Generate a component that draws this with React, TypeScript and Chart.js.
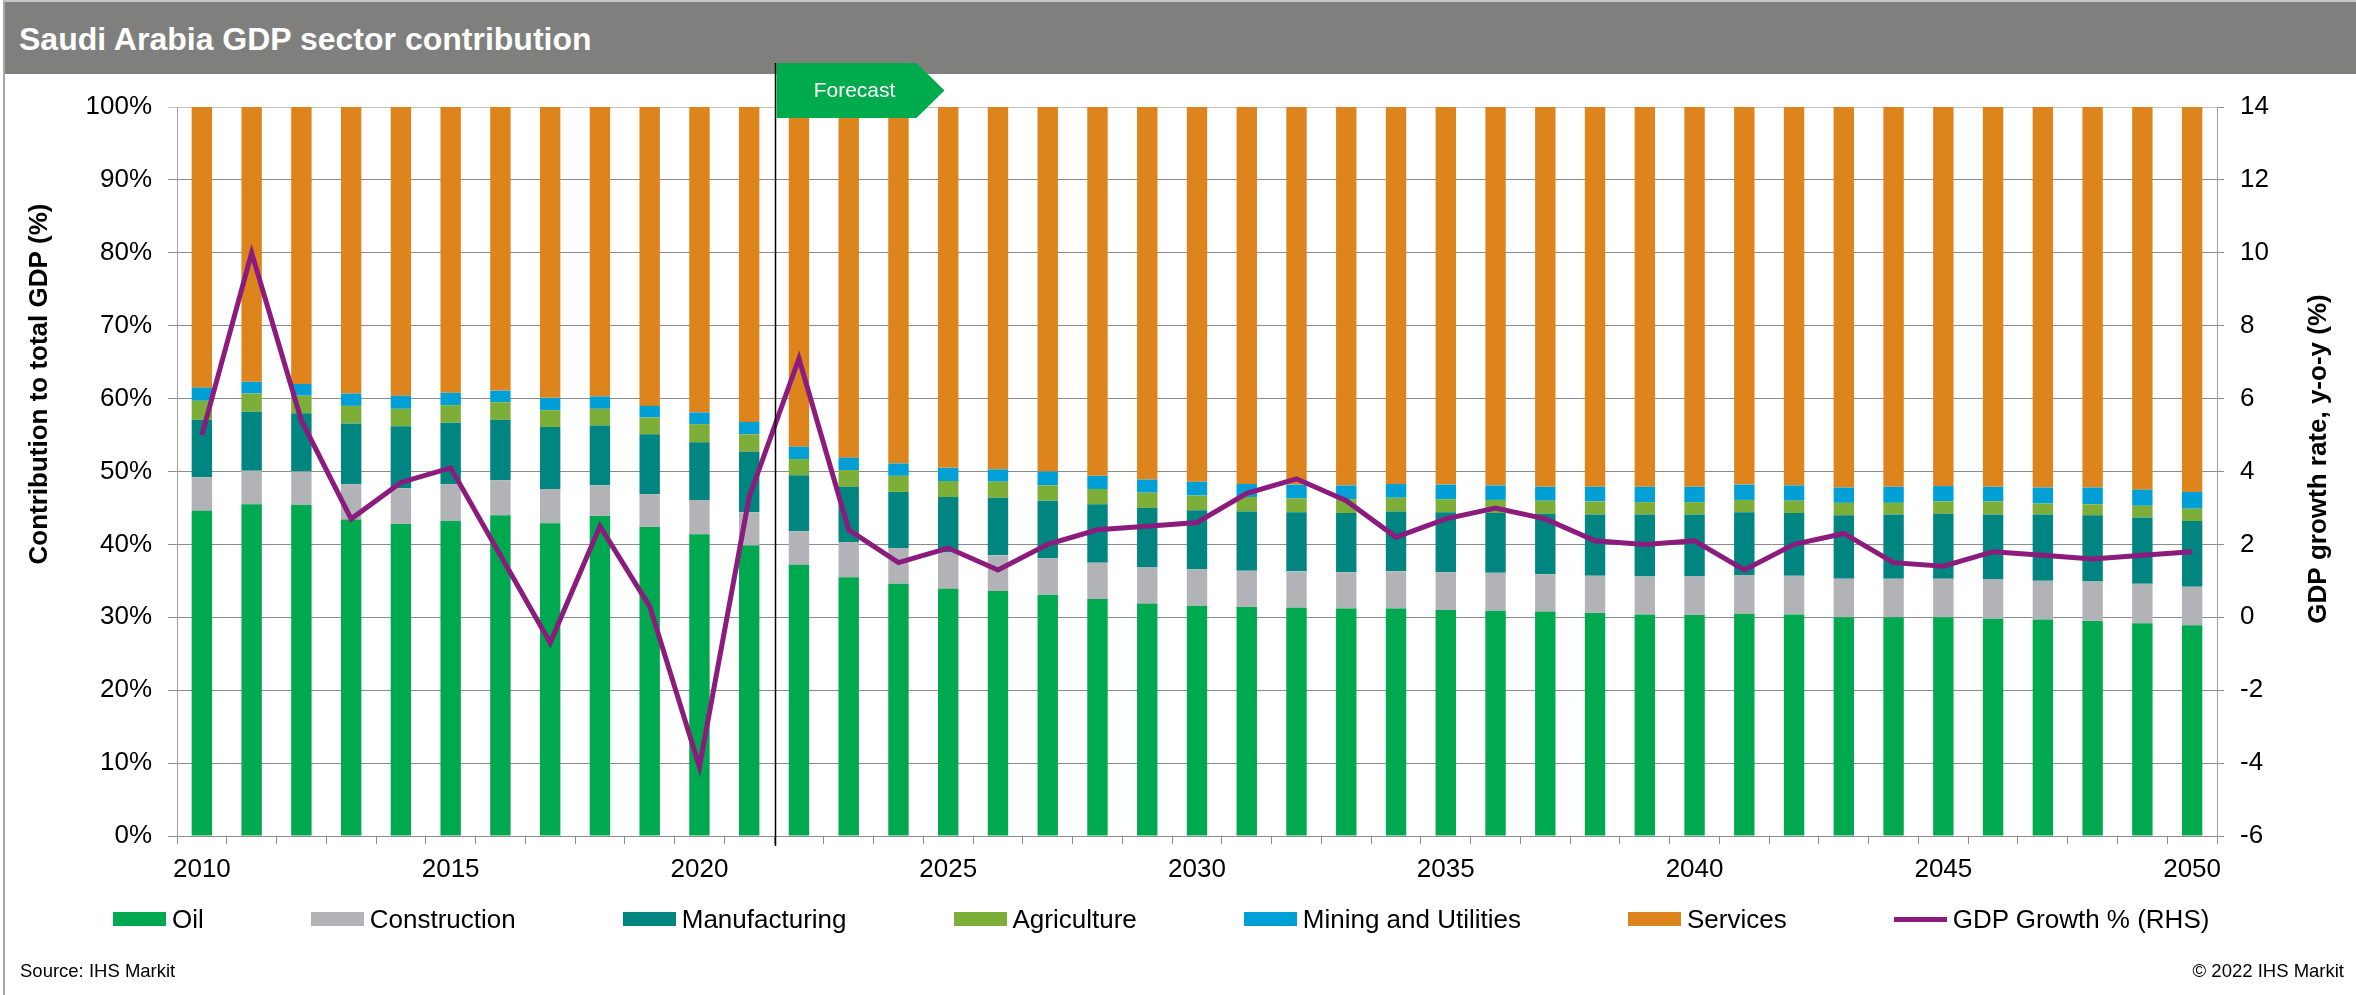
import React, { useEffect, useRef } from 'react';
import { Chart, registerables } from 'chart.js';

Chart.register(...registerables);

const years = ['2010','2011','2012','2013','2014','2015','2016','2017','2018','2019','2020','2021','2022','2023','2024','2025','2026','2027','2028','2029','2030','2031','2032','2033','2034','2035','2036','2037','2038','2039','2040','2041','2042','2043','2044','2045','2046','2047','2048','2049','2050'];
const xTickLabels = ['2010','2015','2020','2025','2030','2035','2040','2045','2050'];
const forecastStart = '2022';

const oil = [44.6,45.5,45.4,43.4,42.8,43.2,44.0,42.9,43.9,42.4,41.4,39.9,37.2,35.5,34.6,33.9,33.6,33.1,32.5,31.9,31.6,31.4,31.3,31.2,31.2,31.0,30.9,30.8,30.6,30.4,30.3,30.5,30.4,30.0,30.0,30.0,29.8,29.7,29.5,29.2,28.9];
const construction = [4.6,4.6,4.6,4.9,4.9,5.1,4.8,4.7,4.2,4.5,4.7,4.5,4.6,4.8,4.9,5.0,4.9,5.0,5.0,5.0,5.0,5.0,5.0,5.0,5.1,5.2,5.2,5.1,5.1,5.2,5.3,5.3,5.3,5.3,5.3,5.3,5.4,5.3,5.4,5.4,5.3];
const manufacturing = [7.9,8.1,8.0,8.3,8.5,8.4,8.3,8.5,8.2,8.2,7.9,8.3,7.7,7.6,7.7,7.6,7.9,7.9,8.0,8.1,8.1,8.1,8.1,8.1,8.2,8.2,8.2,8.3,8.4,8.5,8.5,8.6,8.6,8.7,8.8,8.9,8.9,9.1,9.1,9.1,9.0];
const agriculture = [2.6,2.5,2.4,2.4,2.4,2.4,2.4,2.3,2.3,2.3,2.5,2.4,2.2,2.3,2.2,2.2,2.2,2.1,2.1,2.1,2.0,2.0,1.9,1.9,1.9,1.8,1.8,1.8,1.8,1.7,1.7,1.7,1.7,1.7,1.6,1.7,1.8,1.5,1.5,1.6,1.7];
const miningUtilities = [1.8,1.6,1.6,1.7,1.8,1.7,1.6,1.7,1.7,1.6,1.6,1.7,1.7,1.7,1.7,1.8,1.7,1.9,1.8,1.8,1.9,1.8,1.9,1.9,1.9,2.0,2.0,1.9,2.0,2.1,2.1,2.1,2.1,2.1,2.2,2.1,2.0,2.2,2.3,2.2,2.3];
const services = [38.5,37.7,38.0,39.3,39.6,39.2,38.9,39.9,39.7,41.0,41.9,43.2,46.6,48.1,48.9,49.5,49.7,50.0,50.6,51.1,51.4,51.7,51.8,51.9,51.7,51.8,51.9,52.1,52.1,52.1,52.1,51.8,51.9,52.2,52.1,52.0,52.1,52.2,52.2,52.5,52.8];
const gdpGrowth = [5.0,10.0,5.4,2.7,3.7,4.1,1.7,-0.7,2.5,0.3,-4.1,3.3,7.1,2.4,1.5,1.9,1.3,2.0,2.4,2.5,2.6,3.4,3.8,3.2,2.2,2.7,3.0,2.7,2.1,2.0,2.1,1.3,2.0,2.3,1.5,1.4,1.8,1.7,1.6,1.7,1.8];

const barSeries = [
  { label: 'Oil', data: oil, color: '#00A84F' },
  { label: 'Construction', data: construction, color: '#B1B3B6' },
  { label: 'Manufacturing', data: manufacturing, color: '#008580' },
  { label: 'Agriculture', data: agriculture, color: '#7DAE38' },
  { label: 'Mining and Utilities', data: miningUtilities, color: '#00A0D6' },
  { label: 'Services', data: services, color: '#DD841C' },
];
const lineLabel = 'GDP Growth % (RHS)';
const lineColor = '#8B1B7D';

const FONT = "'Liberation Sans', Arial, Helvetica, sans-serif";

const overlayPlugin = {
  id: 'overlay',
  afterDatasetsDraw(chart: any) {
    const { ctx, chartArea, scales } = chart;
    const i = years.indexOf(forecastStart);
    const x = Math.round((scales.x.getPixelForValue(i - 1) + scales.x.getPixelForValue(i)) / 2) + 1.5;
    const top = chartArea.top - 44;
    const bottom = chartArea.top + 11;
    ctx.save();
    ctx.strokeStyle = '#000';
    ctx.lineWidth = 1.5;
    ctx.beginPath();
    ctx.moveTo(x, top);
    ctx.lineTo(x, chartArea.bottom + 10);
    ctx.stroke();
    ctx.fillStyle = '#00AB4E';
    ctx.beginPath();
    ctx.moveTo(x + 1, top);
    ctx.lineTo(x + 141, top);
    ctx.lineTo(x + 169, (top + bottom) / 2);
    ctx.lineTo(x + 141, bottom);
    ctx.lineTo(x + 1, bottom);
    ctx.closePath();
    ctx.fill();
    ctx.fillStyle = '#fff';
    ctx.font = `21px ${FONT}`;
    ctx.textAlign = 'center';
    ctx.textBaseline = 'middle';
    ctx.fillText('Forecast', x + 79, (top + bottom) / 2 + 1);
    ctx.restore();
  },
  afterDraw(chart: any) {
    const { ctx, chartArea } = chart;
    ctx.save();
    ctx.fillStyle = '#000';
    ctx.font = `bold 26px ${FONT}`;
    ctx.textAlign = 'center';
    ctx.textBaseline = 'middle';
    ctx.translate(chartArea.left - 137, chartArea.top + 277);
    ctx.rotate(-Math.PI / 2);
    ctx.fillText('Contribution to total GDP (%)', 0, 0);
    ctx.restore();
    ctx.save();
    ctx.fillStyle = '#000';
    ctx.font = `bold 26px ${FONT}`;
    ctx.textAlign = 'center';
    ctx.textBaseline = 'middle';
    ctx.translate(chartArea.right + 102, chartArea.top + 352);
    ctx.rotate(-Math.PI / 2);
    ctx.fillText('GDP growth rate, y-o-y (%)', 0, 0);
    ctx.restore();
  },
};

export default function App() {
  const ref = useRef<HTMLCanvasElement>(null);

  useEffect(() => {
    if (!ref.current) return;
    Chart.defaults.font.family = FONT;
    const datasets: any[] = barSeries.map((s) => ({
      type: 'bar',
      label: s.label,
      data: s.data,
      backgroundColor: s.color,
      borderWidth: 0,
      yAxisID: 'y',
      stack: 'gdp',
      order: 1,
      categoryPercentage: 1,
      barPercentage: 0.41,
    }));
    datasets.push({
      type: 'line',
      label: lineLabel,
      data: gdpGrowth,
      borderColor: lineColor,
      backgroundColor: lineColor,
      borderWidth: 5,
      pointRadius: 0,
      tension: 0,
      yAxisID: 'y2',
      order: 0,
    });
    const chart = new Chart(ref.current, {
      type: 'bar',
      data: { labels: years, datasets },
      options: {
        responsive: false,
        animation: false,
        layout: { padding: { top: 107, left: 0, right: 0, bottom: 0 } },
        plugins: { legend: { display: false }, tooltip: { enabled: false }, title: { display: false } },
        scales: {
          x: {
            stacked: true,
            offset: true,
            grid: { offset: true, drawOnChartArea: false, drawTicks: true, tickLength: 8, color: '#8c8c8c', lineWidth: 1 },
            border: { display: true, color: '#8c8c8c', width: 1 },
            ticks: {
              autoSkip: false,
              maxRotation: 0,
              padding: 10,
              color: '#000',
              font: { size: 26 },
              callback: (_v: any, i: number) => (xTickLabels.includes(years[i]) ? years[i] : ''),
            },
            afterFit: (s: any) => { s.height = 159; },
          },
          y: {
            stacked: true,
            position: 'left',
            min: 0,
            max: 100,
            ticks: { stepSize: 10, padding: 16, color: '#000', font: { size: 26 }, callback: (v: any) => v + '%' },
            grid: {
              color: (c: any) => (c.tick && c.tick.value === 100 ? '#c0c0c0' : '#8c8c8c'),
              tickLength: 9,
              lineWidth: 1,
            },
            border: { color: '#a0a0a0', width: 1 },
            afterFit: (s: any) => { s.width = 177; },
          },
          y2: {
            position: 'right',
            stacked: false,
            min: -6,
            max: 14,
            ticks: { stepSize: 2, padding: 16, color: '#000', font: { size: 26 } },
            grid: { drawOnChartArea: false, tickLength: 7, color: '#8c8c8c', lineWidth: 1 },
            border: { color: '#a0a0a0', width: 1 },
            afterFit: (s: any) => { s.width = 139; },
          },
        },
      } as any,
      plugins: [overlayPlugin],
    } as any);
    return () => chart.destroy();
  }, []);

  const legendItems = [
    ...barSeries.map((s) => ({ label: s.label, color: s.color, line: false })),
    { label: lineLabel, color: lineColor, line: true },
  ];

  return (
    <div style={{ position: 'fixed', left: 0, top: 0, width: 2356, height: 995, background: '#fff', overflow: 'hidden', fontFamily: FONT }}>
      <div style={{ position: 'absolute', left: 3, top: 0, width: 2353, height: 995, borderLeft: '2px solid #a8a8a8', borderTop: '2px solid #c4c4c4', boxSizing: 'border-box' }} />
      <div style={{ position: 'absolute', left: 5, top: 2, width: 2351, height: 72, background: '#7F807E' }} />
      <div style={{ position: 'absolute', left: 19, top: 23, color: '#fff', fontWeight: 'bold', fontSize: 32, lineHeight: 1, whiteSpace: 'nowrap' }}>
        Saudi Arabia GDP sector contribution
      </div>
      <canvas ref={ref} width={2356} height={995} style={{ position: 'absolute', left: 0, top: 0, display: 'block' }} />
      <div style={{ position: 'absolute', left: 113, top: 899, height: 40, display: 'flex', alignItems: 'center', whiteSpace: 'nowrap' }}>
        {legendItems.map((it, k) => (
          <div key={it.label} style={{ display: 'flex', alignItems: 'center', marginRight: k < legendItems.length - 1 ? 107 : 0 }}>
            <div style={{ width: 53, height: it.line ? 5 : 14, background: it.color }} />
            <span style={{ marginLeft: 6, fontSize: 26, color: '#000' }}>{it.label}</span>
          </div>
        ))}
      </div>
      <div style={{ position: 'absolute', left: 20, top: 962, fontSize: 18.5, lineHeight: 1, color: '#000', whiteSpace: 'nowrap' }}>Source: IHS Markit</div>
      <div style={{ position: 'absolute', right: 12, top: 962, fontSize: 18.5, lineHeight: 1, color: '#000', whiteSpace: 'nowrap' }}>© 2022 IHS Markit</div>
    </div>
  );
}
